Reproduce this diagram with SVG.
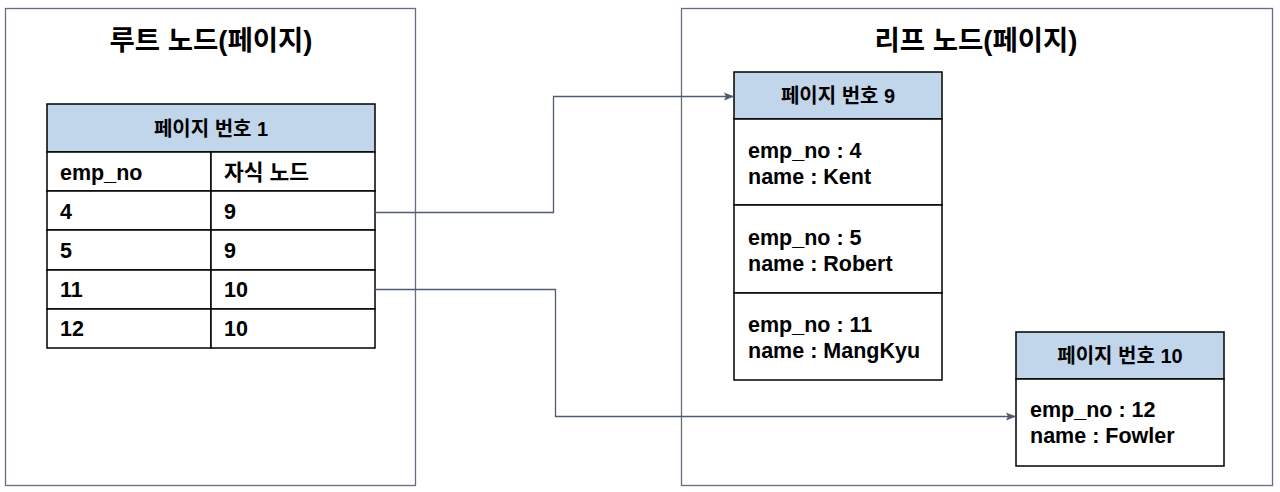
<svg xmlns="http://www.w3.org/2000/svg" width="1280" height="492" viewBox="0 0 1280 492">
<style>
text{font-family:"Liberation Sans","Noto Sans CJK KR",Arial,sans-serif;font-weight:bold;fill:#000}
.title{font-size:27.5px;text-anchor:middle}
.hd{font-size:20px;text-anchor:middle}
.tx{font-size:21.5px}
.outer{fill:#fff;stroke:#646e80;stroke-width:1.3}
.cell{fill:#fff;stroke:#000;stroke-width:1.5}
.head{fill:#c1d5eb;stroke:#000;stroke-width:1.5}
.conn{fill:none;stroke:#4f5b73;stroke-width:1.3}
</style>
<defs>
<marker id="arr" markerWidth="10" markerHeight="10" refX="9" refY="5" orient="auto" markerUnits="userSpaceOnUse" viewBox="0 0 10 10">
<path d="M0,1 L10,5 L0,9 L2,5 Z" fill="#4f5b73"/>
</marker>
</defs>
<rect width="1280" height="492" fill="#fff"/>
<g id="root-page">
<rect class="outer" x="5.5" y="8.5" width="410" height="477"/>
<text class="title" x="211" y="50">루트 노드(페이지)</text>
</g>
<g id="leaf-page">
<rect class="outer" x="681.5" y="8.5" width="591" height="477"/>
<text class="title" x="976" y="50">리프 노드(페이지)</text>
</g>
<g id="root-table">
<rect class="head" x="47" y="104" width="328" height="48"/>
<text class="hd" x="211" y="136">페이지 번호 1</text>
<rect class="cell" x="47" y="152" width="164" height="39"/>
<rect class="cell" x="211" y="152" width="164" height="39"/>
<rect class="cell" x="47" y="191" width="164" height="39"/>
<rect class="cell" x="211" y="191" width="164" height="39"/>
<rect class="cell" x="47" y="230" width="164" height="40"/>
<rect class="cell" x="211" y="230" width="164" height="40"/>
<rect class="cell" x="47" y="270" width="164" height="39"/>
<rect class="cell" x="211" y="270" width="164" height="39"/>
<rect class="cell" x="47" y="309" width="164" height="39"/>
<rect class="cell" x="211" y="309" width="164" height="39"/>
<text class="tx" x="60" y="180">emp_no</text>
<text class="tx" x="224" y="180">자식 노드</text>
<text class="tx" x="60" y="219">4</text>
<text class="tx" x="224" y="219">9</text>
<text class="tx" x="60" y="258">5</text>
<text class="tx" x="224" y="258">9</text>
<text class="tx" x="60" y="297">11</text>
<text class="tx" x="224" y="297">10</text>
<text class="tx" x="60" y="336">12</text>
<text class="tx" x="224" y="336">10</text>
</g>
<g id="page-9">
<rect class="head" x="734" y="72" width="208" height="47"/>
<text class="hd" x="838" y="103">페이지 번호 9</text>
<rect class="cell" x="734" y="119" width="208" height="86"/>
<rect class="cell" x="734" y="205" width="208" height="88"/>
<rect class="cell" x="734" y="293" width="208" height="87"/>
<text class="tx" x="748" y="158">emp_no : 4</text>
<text class="tx" x="748" y="184">name : Kent</text>
<text class="tx" x="748" y="245">emp_no : 5</text>
<text class="tx" x="748" y="271">name : Robert</text>
<text class="tx" x="748" y="332">emp_no : 11</text>
<text class="tx" x="748" y="358">name : MangKyu</text>
</g>
<g id="page-10">
<rect class="head" x="1016" y="332" width="208" height="47"/>
<text class="hd" x="1120" y="363">페이지 번호 10</text>
<rect class="cell" x="1016" y="379" width="208" height="87"/>
<text class="tx" x="1030" y="417">emp_no : 12</text>
<text class="tx" x="1030" y="443">name : Fowler</text>
</g>
<g id="connectors">
<path class="conn" d="M375,212.5 H553.5 V96.5 H733" marker-end="url(#arr)"/>
<path class="conn" d="M375,289.5 H555.5 V416.5 H1015" marker-end="url(#arr)"/>
</g>
</svg>
